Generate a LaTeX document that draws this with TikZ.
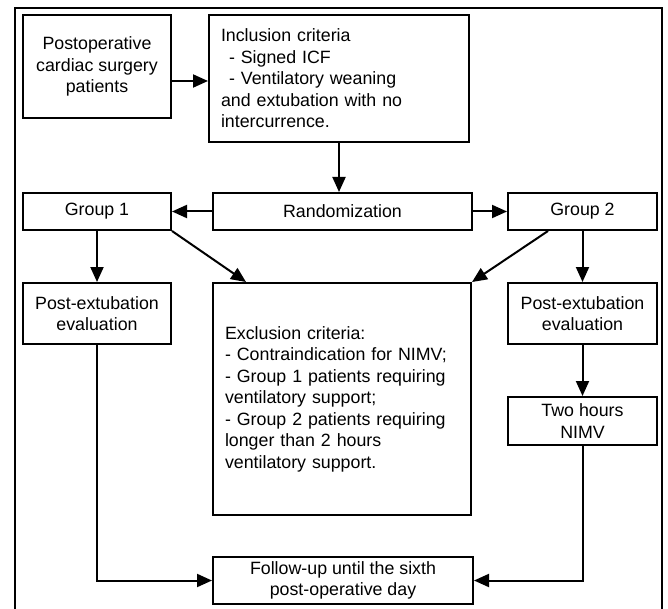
\documentclass[tikz,border=0pt]{standalone}
\usepackage{fontspec}
\setmainfont{Liberation Sans}
\usetikzlibrary{arrows.meta,calc}
\begin{document}
\begin{tikzpicture}[x=1pt,y=-1pt,
  box/.style={draw,line width=2pt,inner sep=0pt,align=center,
    font=\fontsize{17.8}{21.5}\selectfont},
  lbox/.style={box,align=left,inner xsep=12pt},
  arr/.style={line width=2pt,-{Triangle[length=15pt,width=13pt]}},
  ln/.style={line width=2pt}]
\useasboundingbox (0,0) rectangle (668,609);
\draw[ln] (15,640) -- (15,8) -- (662,8) -- (662,640);
\node[box,minimum width=148pt,minimum height=103pt] (postop) at (97,66.5)
  {Postoperative\\cardiac surgery\\patients};
\node[lbox,text width=236pt,minimum height=127pt] (incl) at (339,78.5)
  {Inclusion criteria\\\hspace*{8pt}- Signed ICF\\\hspace*{8pt}- Ventilatory weaning\\and extubation with no\\intercurrence.};
\node[box,minimum width=148pt,minimum height=37pt] (g1) at (97,211.5) {Group 1};
\node[box,minimum width=259pt,minimum height=37pt] (rand) at (342.5,211.5) {Randomization};
\node[box,minimum width=149pt,minimum height=37pt] (g2) at (582.5,211.5) {Group 2};
\node[box,minimum width=148pt,minimum height=61pt] (pe1) at (97,313.5) {Post-extubation\\evaluation};
\node[lbox,text width=234pt,minimum height=232pt] (excl) at (342,399)
  {Exclusion criteria:\\- Contraindication for NIMV;\\- Group 1 patients requiring\\ventilatory support;\\- Group 2 patients requiring\\longer than 2 hours\\ventilatory support.};
\node[box,minimum width=149pt,minimum height=61pt] (pe2) at (582.5,313.5) {Post-extubation\\evaluation};
\node[box,minimum width=149pt,minimum height=48pt] (nimv) at (582.5,421) {Two hours\\NIMV};
\node[box,minimum width=260pt,minimum height=47pt] (fu) at (343,580.5) {Follow-up until the sixth\\post-operative day};
\draw[arr] ([yshift=-14.5pt]postop.east) -- ([yshift=-14.5pt]postop.east -| incl.west);
\draw[arr] (incl.south) -- (incl.south |- rand.north);
\draw[arr] (rand.west) -- (g1.east);
\draw[arr] (rand.east) -- (g2.west);
\draw[arr] (g1.south) -- (pe1.north);
\draw[arr] (g2.south) -- (pe2.north);
\draw[arr] (g1.south east) -- ([xshift=34pt]excl.north west);
\draw[arr] ([xshift=41pt]g2.south west) -- (excl.north east);
\draw[arr] (pe2.south) -- (nimv.north);
\draw[arr] (pe1.south) |- (fu.west);
\draw[arr] (nimv.south) |- (fu.east);
\end{tikzpicture}
\end{document}
